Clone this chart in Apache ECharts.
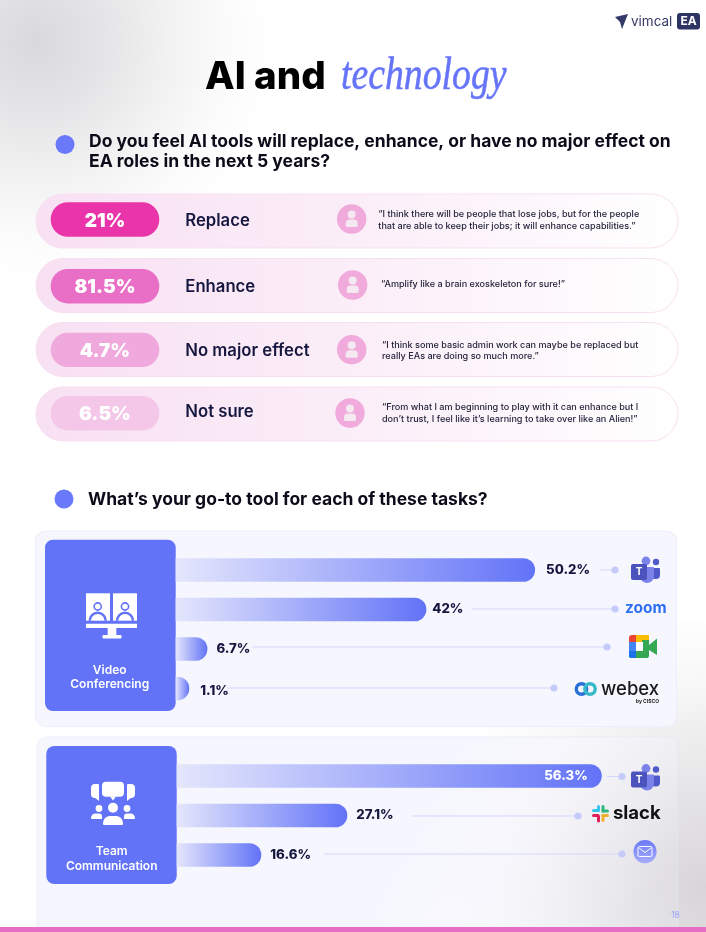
<!DOCTYPE html>
<html><head><meta charset="utf-8">
<style>html,body{margin:0;padding:0;background:#fff}#c{width:706px;height:932px}</style>
<script src="https://cdn.jsdelivr.net/npm/echarts@6/dist/echarts.min.js"></script>
</head><body><div id="c"></div>
<script>
// ---------- DATA ----------
const titleLead = 'AI and';
const titleAccent = 'technology';
const question1 = ['Do you feel AI tools will replace, enhance, or have no major effect on', 'EA roles in the next 5 years?'];
const question2 = 'What’s your go-to tool for each of these tasks?';
const impactCategories = ['Replace', 'Enhance', 'No major effect', 'Not sure'];
const impactValues = [21, 81.5, 4.7, 6.5];
const impactQuotes = [
  ['“I think there will be people that lose jobs, but for the people', 'that are able to keep their jobs; it will enhance capabilities.”'],
  ['“Amplify like a brain exoskeleton for sure!”'],
  ['“I think some basic admin work can maybe be replaced but', 'really EAs are doing so much more.”'],
  ['“From what I am beginning to play with it can enhance but I', 'don’t trust, I feel like it’s learning to take over like an Alien!”']
];
const videoTitle = ['Video', 'Conferencing'];
const videoTools = ['Microsoft Teams', 'Zoom', 'Google Meet', 'Webex'];
const videoShown = [50.2, 42, 6.7, 1.1];            // percentages printed beside the bars
const videoBarLengths = [47.6, 33.2, 4.2, 1.8];     // bar lengths as drawn in the picture, unlabelled shared scale
const teamTitle = ['Team', 'Communication'];
const teamTools = ['Microsoft Teams', 'Slack', 'Email'];
const teamShown = [56.3, 27.1, 16.6];
const teamBarLengths = [56.3, 22.6, 11.2];
const pageNumber = '18';

// ---------- STYLE / LAYOUT ----------
const FONT = 'Inter, "Noto Sans", sans-serif';
const NAVY = '#15173f', BLUE = '#6273f7', LINE = '#d3d7fc', DOT = '#c5cbf9';
const pillColors = ['#e935a9', '#e96fc6', '#f0a9dc', '#f4c6e8'];
const rowTop = [194, 258.5, 322.5, 387];
const pillTop = [202.3, 269, 332.7, 396];
const labelY = [220.5, 286.5, 350.5, 411.5];
const avatar = [[351.7, 219], [352.7, 285], [351.7, 349.7], [350, 413]];
const quotePos = [[378.3, 214.5, 226.7], [381, 284], [382, 345, 356], [382, 407.5, 419.5]];

const g = [];
const rect = (x, y, w, h, fill, r, extra) => g.push(Object.assign({ type: 'rect', shape: { x, y, width: w, height: h, r: r || 0 }, style: { fill } }, extra || {}));
const circ = (cx, cy, r, fill, extra) => g.push({ type: 'circle', shape: { cx, cy, r }, style: Object.assign({ fill }, extra || {}) });
const txt = (x, y, text, font, fill, align) => g.push({ type: 'text', style: { x, y, text, font, fill, textAlign: align || 'left', textVerticalAlign: 'middle' } });
const poly = (points, fill) => g.push({ type: 'polygon', shape: { points }, style: { fill } });
const seg = (x1, y1, x2, y2, stroke, w) => g.push({ type: 'line', shape: { x1, y1, x2, y2 }, style: { stroke, lineWidth: w || 1 } });

// backgrounds
rect(0, 0, 706, 932, '#ffffff');
rect(0, 0, 320, 290, { type: 'radial', global: true, x: 35, y: 42, r: 240, colorStops: [{ offset: 0, color: '#d9d9dc' }, { offset: .3, color: '#e5e5e7' }, { offset: .55, color: '#f1f1f2' }, { offset: .8, color: '#fbfbfb' }, { offset: 1, color: '#ffffff' }] });
rect(400, 620, 306, 312, { type: 'radial', global: true, x: 706, y: 890, r: 280, colorStops: [{ offset: 0, color: '#d8d5d8' }, { offset: .4, color: '#e7e6e8' }, { offset: .75, color: '#f8f8f8' }, { offset: 1, color: '#ffffff' }] });

// brand
poly([[615, 17], [628, 14], [622, 29], [620, 22]], '#343a68');
txt(631, 21.5, 'vimcal', '400 13.5px ' + FONT, '#343a68');
rect(677, 13, 23, 16.5, '#2f3364', 3);
txt(688.5, 21.5, 'EA', '700 12px ' + FONT, '#ffffff', 'center');

// heading
txt(205, 77, titleLead, '800 38.5px ' + FONT, '#000000');
g.push({ type: 'text', x: 341, y: 77, scaleX: 0.82, style: { x: 0, y: 0, text: titleAccent, font: 'italic 400 46px "Liberation Serif", serif', fill: '#6574f8', stroke: '#6574f8', lineWidth: 0.5, textAlign: 'left', textVerticalAlign: 'middle' } });

// question 1
circ(65, 144.5, 9.5, '#6a79f9');
txt(89, 141.5, question1[0], '700 17.5px ' + FONT, '#0b0b1a');
txt(89, 161.5, question1[1], '700 17.5px ' + FONT, '#0b0b1a');

// pink rows
impactCategories.forEach((name, i) => {
  const y = rowTop[i];
  rect(36, y, 642, 54, { type: 'linear', x: 0, y: 0, x2: 1, y2: 0, colorStops: [{ offset: 0, color: '#f8e0f3' }, { offset: .5, color: '#fbeef8' }, { offset: 1, color: '#ffffff' }] }, 27);
  g[g.length - 1].style.stroke = '#f8dff2';
  txt(185.3, labelY[i], name, '600 16.7px ' + FONT, NAVY);
  const [cx, cy] = avatar[i];
  circ(cx, cy, 14.7, '#f0aadc');
  circ(cx, cy - 4.5, 4, '#f4e9f0');
  rect(cx - 6, cy + 0.5, 12, 7.5, '#f4e9f0', [4, 4, 1.5, 1.5]);
  const q = quotePos[i];
  impactQuotes[i].forEach((line, k) => txt(q[0], q[k + 1], line, '500 9.1px ' + FONT, '#24243c'));
});

// question 2
circ(64, 499, 9.5, '#6a79f9');
txt(88, 500, question2, '700 17.5px ' + FONT, '#0b0b1a');

// cards
rect(35.5, 531, 641, 195.5, '#f6f6fe', 10);
g[g.length - 1].style.stroke = '#eceefc';
rect(37, 737, 640.5, 200, { type: 'linear', global: true, x: 440, y: 790, x2: 650, y2: 900, colorStops: [{ offset: 0, color: '#f6f6fe' }, { offset: 1, color: 'rgba(246,246,254,0.15)' }] }, 10);
g[g.length - 1].style.stroke = 'rgba(228,230,252,0.6)';

// tiles
rect(45, 539.7, 130.7, 171.3, BLUE, 8);
rect(46.3, 746, 130.4, 138, BLUE, 8);
txt(109.7, 670.7, videoTitle[0], '600 12px ' + FONT, '#fff', 'center');
txt(109.7, 684.8, videoTitle[1], '600 12px ' + FONT, '#fff', 'center');
txt(111.7, 851.8, teamTitle[0], '600 12px ' + FONT, '#fff', 'center');
txt(111.7, 866.8, teamTitle[1], '600 12px ' + FONT, '#fff', 'center');

// monitor icon
[[86, 97.7], [113, 125]].forEach(([x, hx]) => {
  rect(x, 593.3, 24, 27.4, '#ffffff');
  circ(hx, 606.5, 3.6, '#ffffff', { stroke: BLUE, lineWidth: 1.6 });
  g.push({ type: 'sector', shape: { cx: hx, cy: 620.7, r: 9.2, r0: 6.8, startAngle: Math.PI, endAngle: 2 * Math.PI }, style: { fill: BLUE } });
});
rect(86, 623.7, 51, 4.4, '#ffffff');
rect(107.7, 628, 8.6, 7, '#ffffff');
rect(102.5, 635, 19, 3.5, '#ffffff', 1);

// team icon
rect(102, 781.7, 22, 15, '#ffffff', 4);
poly([[110, 796.5], [116, 796.5], [113, 800.5]], '#ffffff');
rect(91, 784, 8, 14, '#ffffff', [4, 1, 1, 4]);
poly([[94, 797], [99, 796], [99, 801]], '#ffffff');
rect(127, 784, 8, 14, '#ffffff', [1, 4, 4, 1]);
poly([[132, 797], [127, 796], [127, 801]], '#ffffff');
circ(113, 807.8, 5, '#ffffff');
circ(99, 808.5, 3.4, '#ffffff');
circ(127, 808.5, 3.4, '#ffffff');
rect(103, 816, 20, 9, '#ffffff', [7, 7, 1, 1]);
rect(91, 813.5, 11, 5.5, '#ffffff', [5, 3, 0, 1]);
rect(124, 813.5, 11, 5.5, '#ffffff', [3, 5, 1, 0]);

// leader lines
[[600, 613, 615, 570], [472, 613, 615, 609], [252, 605, 607, 647], [227, 552, 554, 688],
 [607, 620, 622, 776.5], [412, 576, 578, 816], [324, 620, 622, 854]].forEach(([a, b, dx, y]) => {
  seg(a, y, b, y, LINE, 1);
  circ(dx, y, 3.6, DOT);
});

// tool marks
function teams(x, y) {
  circ(x + 15, y + 5, 4.4, '#7b83eb');
  circ(x + 25, y + 6, 3.2, '#5059c9');
  rect(x + 20, y + 12, 9, 11, '#5059c9', [1, 1, 4, 4]);
  rect(x + 9, y + 11, 14, 16, '#7b83eb', [1, 1, 7, 7]);
  rect(x, y + 8, 16, 16, '#4b53bc', 2);
  txt(x + 8, y + 16.3, 'T', '700 10px ' + FONT, '#ffffff', 'center');
}
teams(631, 556);
teams(631, 763.5);
txt(625, 608, 'zoom', '700 15.5px ' + FONT, '#2d6ff0');
// meet
rect(629, 635, 7, 7, '#ea4335', [3, 0, 0, 0]);
rect(636, 635, 13, 7, '#fbbc04', [0, 2, 0, 0]);
rect(629, 642, 7, 9, '#4285f4');
rect(629, 651, 20, 7, '#34a853', [0, 0, 2, 2]);
rect(642, 640, 7, 13, '#34a853');
rect(629, 651, 7, 7, '#1a73e8', [0, 0, 0, 2]);
rect(636, 642, 7, 9, '#ffffff');
rect(636, 635, 13, 5, '#fbbc04');
poly([[649, 645], [657, 638.5], [657, 655], [649, 650]], '#34a853');
// webex
circ(581.5, 689, 5.2, 'transparent', { stroke: '#2a6fd6', lineWidth: 3.4 });
circ(590, 689, 5.2, 'transparent', { stroke: '#35b9c9', lineWidth: 3.4 });
txt(601, 689, 'webex', '500 18.5px ' + FONT, '#1a1a1a');
txt(659, 701, 'by CISCO', '700 5px ' + FONT, '#1a1a1a', 'right');
// slack
rect(592, 809, 7.5, 3, '#36c5f0', 1.5);
rect(597, 805, 3, 7, '#36c5f0', 1.5);
rect(601.5, 805, 3, 7.5, '#2eb67d', 1.5);
rect(601.5, 809.5, 7.5, 3, '#2eb67d', 1.5);
rect(601.5, 814, 7.5, 3, '#ecb22e', 1.5);
rect(601.5, 814, 3, 8, '#ecb22e', 1.5);
rect(597, 815, 3, 7.5, '#e01e5a', 1.5);
rect(592, 814, 7.5, 3, '#e01e5a', 1.5);
txt(613, 813.5, 'slack', '700 18.5px ' + FONT, '#121212');
// mail
g.push({ type: 'circle', shape: { cx: 645, cy: 851.7, r: 11.6 }, style: { fill: { type: 'linear', x: 0, y: 0, x2: 0, y2: 1, colorStops: [{ offset: 0, color: '#6a79f5' }, { offset: 1, color: '#a8aefb' }] } } });
g.push({ type: 'rect', shape: { x: 638, y: 846.5, width: 14, height: 10, r: 1.5 }, style: { fill: 'transparent', stroke: '#ffffff', lineWidth: 1 } });
g.push({ type: 'polyline', shape: { points: [[638.5, 847.5], [645, 852.5], [651.5, 847.5]] }, style: { fill: 'none', stroke: '#ffffff', lineWidth: 1 } });

// footer
txt(675.5, 915, pageNumber, '400 8.5px ' + FONT, '#98a2f8', 'center');
rect(0, 927, 706, 5, '#e66fc4');

// ---------- CHART ----------
const grids = [], xAxes = [], yAxes = [], series = [];
function addGrid(top, height, left, width, cats, xMax) {
  const i = grids.length;
  grids.push({ left, top, width, height });
  xAxes.push({ type: 'value', gridIndex: i, min: 0, max: xMax, show: false });
  yAxes.push({ type: 'category', gridIndex: i, inverse: true, data: cats, show: false });
  return i;
}
// pink badges: each fills its own track
impactValues.forEach((v, i) => {
  const idx = addGrid(pillTop[i], 34.4, 50.7, 108.6, [impactCategories[i]], 'dataMax');
  series.push({
    type: 'bar', name: impactCategories[i], xAxisIndex: idx, yAxisIndex: idx, data: [v], barWidth: 34.4, silent: true,
    itemStyle: { color: pillColors[i], borderRadius: 17 },
    label: { show: true, position: 'inside', offset: [0, 1.5], formatter: p => p.value + '%', color: '#fff', fontFamily: FONT, fontWeight: 900, fontSize: 19 }
  });
});
const barFill = { type: 'linear', x: 0, y: 0, x2: 1, y2: 0, colorStops: [{ offset: 0, color: '#e4e6fc' }, { offset: 1, color: '#6273f7' }] };
const PILL = 7.55; // px per unit of the shared scale
function toolBars(name, top, left, cats, lengths, shown, labelOpts) {
  const band = 39.5;
  const idx = addGrid(top, band * cats.length, left, 60 * PILL, cats, 60);
  series.push({
    type: 'bar', name, xAxisIndex: idx, yAxisIndex: idx, barWidth: 23.7, silent: true,
    itemStyle: { color: barFill, borderRadius: [0, 12, 12, 0] },
    data: lengths.map((v, i) => ({
      value: v,
      label: Object.assign({ show: true, position: 'right', formatter: shown[i] + '%', color: NAVY, fontFamily: FONT, fontWeight: 800, fontSize: 13.2 }, labelOpts[i])
    }))
  });
}
toolBars('Video Conferencing', 550.25, 175.7, videoTools, videoBarLengths, videoShown,
  [{ distance: 11 }, { distance: 6 }, { distance: 9 }, { distance: 11, offset: [0, 3] }]);
toolBars('Team Communication', 756.25, 176.7, teamTools, teamBarLengths, teamShown,
  [{ position: 'insideRight', distance: 14, color: '#ffffff', fontWeight: 800 }, { distance: 9 }, { distance: 9 }]);

const chart = echarts.init(document.getElementById('c'), null, { renderer: 'canvas' });
chart.setOption({ animation: false, backgroundColor: '#fff', graphic: { elements: g }, grid: grids, xAxis: xAxes, yAxis: yAxes, series });
</script></body></html>
